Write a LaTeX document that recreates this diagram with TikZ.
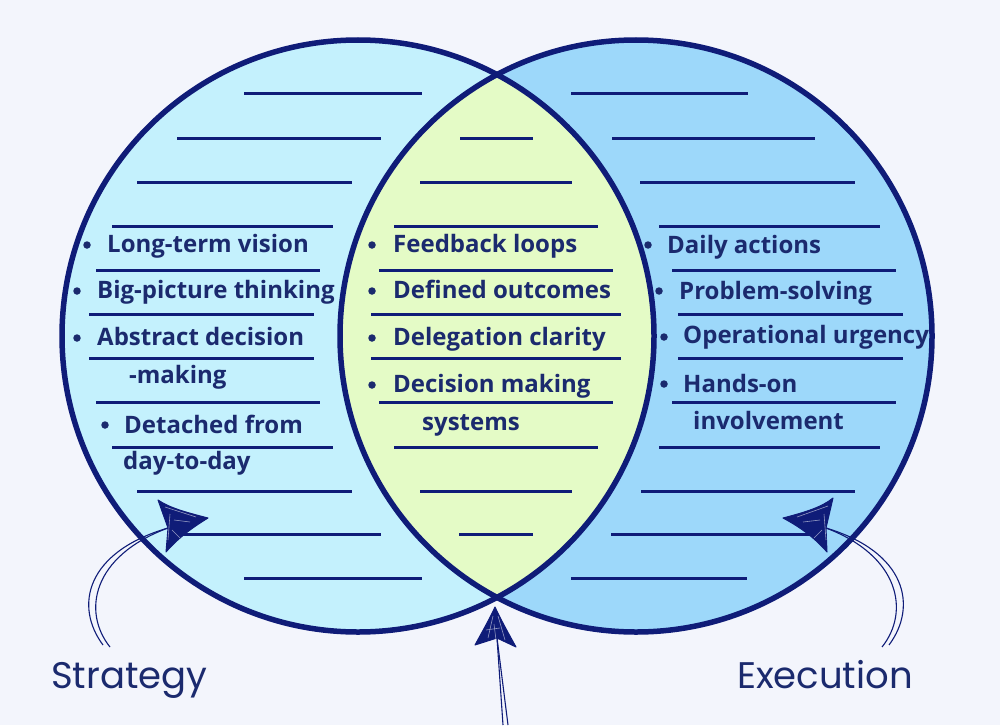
\documentclass[tikz,border=0pt]{standalone}
\usepackage{fontspec}
\setmainfont{Open Sans}
\newfontfamily\labelfont{Poppins}
\definecolor{bg}{HTML}{F3F5FC}
\definecolor{navy}{HTML}{0F1C78}
\definecolor{leftfill}{HTML}{C4F1FD}
\definecolor{rightfill}{HTML}{9DD8FA}
\definecolor{midfill}{HTML}{E4FBC6}
\definecolor{txt}{HTML}{1B2A6E}
\begin{document}
\begin{tikzpicture}[x=1pt,y=-1pt,
  rule/.style={navy, line width=3pt},
  outline/.style={navy, line width=5.5pt},
  item/.style={anchor=base west, inner sep=0pt, text=txt, font=\fontsize{24}{28}\selectfont\bfseries},
  bul/.style={circle, fill=txt, minimum size=7.5pt, inner sep=0pt},
  lbl/.style={anchor=base west, inner sep=0pt, text=txt, font=\labelfont\fontsize{37}{40}\selectfont},
  shaft/.style={navy, line width=1.1pt},
  head/.style={fill=navy, draw=navy, line width=1pt, line join=round},
  streak/.style={white, opacity=0.55, line width=0.6pt}]
\fill[bg] (0,0) rectangle (1000,725);
\useasboundingbox (0,0) rectangle (1000,725);
\coordinate (cl) at (358,336);
\coordinate (cr) at (636,336);
% fills
\fill[leftfill] (cl) circle[radius=296];
\fill[rightfill] (cr) circle[radius=296];
\begin{scope}
  \clip (cl) circle[radius=296];
  \fill[midfill] (cr) circle[radius=296];
\end{scope}
% rules
\foreach \y/\a/\b in {93/244/422, 138/177/381, 182/137/352, 226/112/333, 270/96/320, 314/89/314, 358/89/314, 402/96/320, 447/112/333, 491/137/352, 534/182/381, 578/244/422}
  \draw[rule] (\a,\y) -- (\b,\y);
\foreach \y/\a/\b in {138/460/533, 182/420/572, 226/394/598, 270/379/613, 314/371/621, 358/371/621, 402/379/613, 447/394/598, 491/420/572, 534/459/533}
  \draw[rule] (\a,\y) -- (\b,\y);
\foreach \y/\a/\b in {93/571/748, 138/612/815, 182/640/855, 226/659/880, 270/672/896, 314/678/903, 358/678/903, 402/672/896, 447/659/880, 491/641/855, 534/611/810, 578/571/747}
  \draw[rule] (\a,\y) -- (\b,\y);
% outlines
\draw[outline] (cl) circle[radius=296];
\draw[outline] (cr) circle[radius=296];
% left texts
\node[bul] (lb1) at (87,245) {};
\node[item] (lt1) at (107,252) {Long-term vision};
\node[bul] (lb2) at (77,291) {};
\node[item] (lt2) at (97,298) {Big-picture thinking};
\node[bul] (lb3) at (77,338) {};
\node[item] (lt3) at (97,345) {Abstract decision};
\node[item] (lt3b) at (129,383) {-making};
\node[bul] (lb4) at (105,425) {};
\node[item] (lt4) at (124,433) {Detached from};
\node[item] (lt4b) at (123,469) {day-to-day};
% middle texts
\node[bul] (mb1) at (372,245) {};
\node[item] (mt1) at (393,252) {Feedback loops};
\node[bul] (mb2) at (372,291) {};
\node[item] (mt2) at (393,298) {Defined outcomes};
\node[bul] (mb3) at (372,338) {};
\node[item] (mt3) at (393,345) {Delegation clarity};
\node[bul] (mb4) at (372,385) {};
\node[item] (mt4) at (393,392) {Decision making};
\node[item] (mt4b) at (422,430) {systems};
% right texts
\node[bul] (rb1) at (648,245) {};
\node[item] (rt1) at (667,253) {Daily actions};
\node[bul] (rb2) at (659,291) {};
\node[item] (rt2) at (679,299) {Problem-solving};
\node[bul] (rb3) at (664,337) {};
\node[item] (rt3) at (683,343) {Operational urgency};
\node[bul] (rb4) at (664,384) {};
\node[item] (rt4) at (683,392) {Hands-on};
\node[item] (rt4b) at (693,429) {involvement};
% labels
\node[lbl] (strategy) at (51,688) {Strategy};
\node[lbl] (execution) at (737,688) {Execution};
% left arrow
\coordinate (ls0) at (110,647);
\coordinate (ls0b) at (103,645);
\coordinate (lnotch) at (168,528);
\draw[shaft] (ls0) .. controls (82,612) and (92,556) .. (lnotch);
\draw[shaft] (ls0b) .. controls (74,606) and (86,552) .. (lnotch);
\draw[head] (208,518) .. controls (185,512) and (170,508) .. (158,500)
  -- (lnotch) -- (166,552) .. controls (180,536) and (195,526) .. cycle;
\draw[streak] (165,507) -- (196,517) (170,514) -- (168,540) (174,520) -- (190,522) (172,530) -- (180,538);
% right arrow
\coordinate (rs0) at (882,647);
\coordinate (rs0b) at (889,645);
\coordinate (rnotch) at (826,528);
\draw[shaft] (rs0) .. controls (910,612) and (900,556) .. (rnotch);
\draw[shaft] (rs0b) .. controls (918,606) and (906,552) .. (rnotch);
\draw[head] (783,518) .. controls (806,512) and (822,507) .. (833,498)
  -- (rnotch) -- (827,552) .. controls (813,536) and (798,526) .. cycle;
\draw[streak] (828,506) -- (797,517) (824,514) -- (826,540) (820,520) -- (803,522) (822,530) -- (814,538);
% middle arrow
\coordinate (ms0) at (508,725);
\coordinate (ms0b) at (503,725);
\coordinate (mnotch) at (497,638);
\draw[shaft] (ms0) -- (mnotch);
\draw[shaft] (ms0b) -- (mnotch);
\draw[head] (495,607) .. controls (502,622) and (510,636) .. (516,647)
  -- (mnotch) -- (475,645) .. controls (482,632) and (489,620) .. cycle;
\draw[streak] (493,616) -- (488,638) (498,616) -- (505,640) (486,630) -- (500,628) (494,624) -- (496,640);
\end{tikzpicture}
\end{document}
